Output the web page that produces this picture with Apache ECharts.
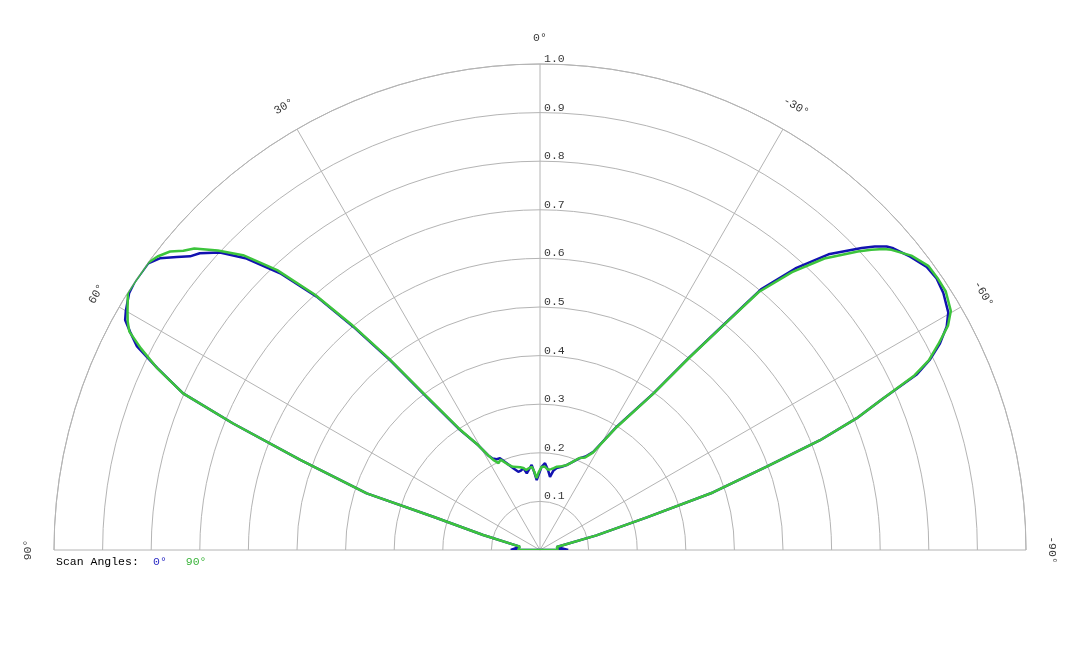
<!DOCTYPE html>
<html>
<head>
<meta charset="utf-8">
<script src="https://cdn.jsdelivr.net/npm/echarts@6/dist/echarts.min.js"></script>
<style>
html,body{margin:0;padding:0;background:#fff;}
#chart{width:1080px;height:648px;}
</style>
</head>
<body>
<div id="chart"></div>
<script>
// Angles (degrees) at which the patterns are sampled
const angles = [-90, -80, -75.5, -73, -71.6, -69.8, -68.6, -67.4, -66.2, -65, -64, -62.7, -61.2, -59.8, -57.5, -55.6, -53.8, -51.6, -49.5, -48.8, -47.8, -46.8, -44.3, -42.2, -40.3, -39.2, -37.8, -35.9, -31.9, -28.5, -26, -23.2, -19.5, -17.4, -14.6, -11.5, -9.5, -7.8, -5.6, -3.3, -1.1, 1, 2.7, 4.2, 5.6, 7.6, 9.8, 11.5, 13.5, 15.5, 18.1, 21, 23.6, 25.5, 27.4, 28.5, 30.5, 33.7, 36.6, 38.3, 39.9, 41.4, 43.2, 45.2, 47.1, 48.9, 50, 51.1, 52.5, 53.8, 56.5, 58, 60, 61, 62, 63.2, 64.6, 66.3, 67.6, 69.4, 71.9, 72.7, 75.2, 80.6, 90];
// Scan angle 0°
const scan0 = [0.058, 0.035, 0.12, 0.23, 0.375, 0.497, 0.619, 0.706, 0.77, 0.856, 0.892, 0.926, 0.955, 0.972, 0.984, 0.989, 0.986, 0.972, 0.956, 0.948, 0.93, 0.908, 0.85, 0.782, 0.703, 0.598, 0.503, 0.398, 0.299, 0.23, 0.214, 0.205, 0.19, 0.183, 0.177, 0.172, 0.165, 0.152, 0.166, 0.179, 0.171, 0.155, 0.144, 0.16, 0.176, 0.168, 0.16, 0.172, 0.168, 0.167, 0.177, 0.191, 0.206, 0.207, 0.212, 0.22, 0.25, 0.297, 0.395, 0.498, 0.599, 0.695, 0.781, 0.851, 0.899, 0.929, 0.94, 0.96, 0.986, 0.999, 1.0, 0.997, 0.984, 0.976, 0.955, 0.929, 0.871, 0.802, 0.683, 0.527, 0.375, 0.23, 0.121, 0.042, 0.06];
// Scan angle 90°
const scan90 = [0.037, 0.035, 0.12, 0.23, 0.375, 0.497, 0.619, 0.706, 0.77, 0.85, 0.89, 0.922, 0.958, 0.978, 0.99, 0.991, 0.99, 0.975, 0.951, 0.94, 0.92, 0.897, 0.838, 0.772, 0.696, 0.595, 0.5, 0.396, 0.297, 0.228, 0.212, 0.206, 0.19, 0.183, 0.178, 0.175, 0.171, 0.168, 0.166, 0.172, 0.171, 0.16, 0.148, 0.162, 0.172, 0.17, 0.167, 0.172, 0.175, 0.177, 0.18, 0.19, 0.203, 0.198, 0.209, 0.22, 0.25, 0.3, 0.4, 0.503, 0.605, 0.7, 0.79, 0.861, 0.905, 0.944, 0.958, 0.978, 0.992, 1.0, 1.0, 1.0, 0.98, 0.97, 0.957, 0.92, 0.872, 0.802, 0.683, 0.527, 0.375, 0.23, 0.121, 0.042, 0.045];
// Tick labels
const angleTicks = [-90, -60, -30, 0, 30, 60, 90];
const radiusTicks = [0.1, 0.2, 0.3, 0.4, 0.5, 0.6, 0.7, 0.8, 0.9, 1.0];
const seriesNames = ['0°', '90°'];

const FONT = 'Liberation Mono';
const FS = 11.5;
const GRID = '#b4b4b4';
const TEXT = '#000';

function closedPattern(vals) {
  const pts = angles.map((a, i) => [vals[i], a]);
  pts.push(pts[0]);
  return pts;
}

const hiddenAngle = {
  type: 'value', min: -90, max: 90, interval: 30,
  startAngle: 0, endAngle: 180, clockwise: false,
  axisLine: {show: false}, axisTick: {show: false}, axisLabel: {show: false}, splitLine: {show: false}
};

const chart = echarts.init(document.getElementById('chart'), null, {renderer: 'canvas'});
chart.setOption({
  animation: false,
  backgroundColor: '#ffffff',
  title: {
    text: 'Scan Angles:', left: 56, top: 556, padding: 0,
    textStyle: {fontFamily: FONT, fontSize: FS, fontWeight: 'normal', color: TEXT}
  },
  legend: {
    left: 148, top: 556, padding: 0, icon: 'none', itemWidth: 0, itemHeight: 10, itemGap: 14,
    textStyle: {fontFamily: FONT, fontSize: FS},
    data: [
      {name: seriesNames[0], textStyle: {color: '#2b2bc4'}},
      {name: seriesNames[1], textStyle: {color: '#3cb43c'}}
    ]
  },
  polar: [
    {center: ['50%', 550], radius: 486},
    {center: ['50%', 550], radius: 512}
  ],
  angleAxis: [
    {
      polarIndex: 0,
      type: 'value', min: -90, max: 90, interval: 30,
      startAngle: 0, endAngle: 180, clockwise: false,
      axisLine: {show: true, lineStyle: {color: GRID, width: 1}},
      axisTick: {show: false},
      axisLabel: {show: false},
      splitLine: {show: true, lineStyle: {color: GRID, width: 1}}
    },
    Object.assign({polarIndex: 1}, hiddenAngle)
  ],
  radiusAxis: [
    {
      polarIndex: 0,
      type: 'value', min: 0, max: 1, interval: 0.1,
      axisLine: {show: false}, axisTick: {show: false}, axisLabel: {show: false},
      splitLine: {show: true, lineStyle: {color: GRID, width: 1}}
    },
    {
      polarIndex: 1,
      type: 'value', min: 0, max: 1,
      axisLine: {show: false}, axisTick: {show: false}, axisLabel: {show: false}, splitLine: {show: false}
    }
  ],
  series: [
    {
      name: seriesNames[0], type: 'line', coordinateSystem: 'polar', polarIndex: 0,
      data: closedPattern(scan0), symbol: 'none', smooth: false,
      lineStyle: {color: '#1212b0', width: 2.5}, itemStyle: {color: '#1212b0'}, z: 3
    },
    {
      name: seriesNames[1], type: 'line', coordinateSystem: 'polar', polarIndex: 0,
      data: closedPattern(scan90), symbol: 'none', smooth: false,
      lineStyle: {color: '#3cc43c', width: 2.5}, itemStyle: {color: '#3cc43c'}, z: 4
    },
    {
      name: 'angleLabels', type: 'scatter', coordinateSystem: 'polar', polarIndex: 1,
      symbolSize: 0, silent: true, z: 5,
      data: angleTicks.map(a => ({value: [1, a], label: {rotate: a}})),
      label: {show: true, position: 'inside', formatter: p => p.value[1] + '°',
        fontFamily: FONT, fontSize: FS, color: TEXT}
    },
    {
      name: 'radiusLabels', type: 'scatter', coordinateSystem: 'polar', polarIndex: 0,
      symbolSize: 0, silent: true, z: 5,
      data: radiusTicks.map(r => [r, 0]),
      label: {show: true, position: 'right', distance: 4, offset: [0, -5],
        formatter: p => p.value[0].toFixed(1),
        fontFamily: FONT, fontSize: FS, color: TEXT}
    }
  ]
});
</script>
</body>
</html>
